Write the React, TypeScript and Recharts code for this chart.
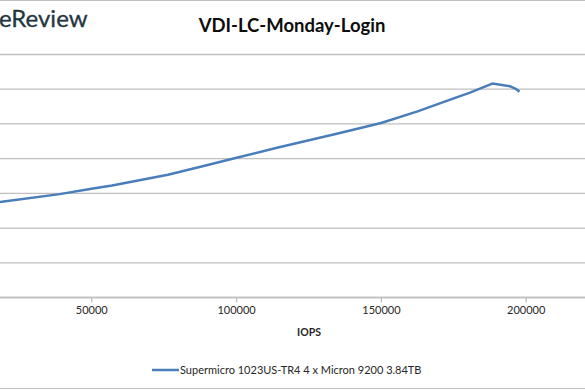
import React from "react";
import { LineChart, Line, XAxis, YAxis, CartesianGrid, Legend } from "recharts";

const seriesName = "Supermicro 1023US-TR4 4 x Micron 9200 3.84TB";
const iops = [11400, 19600, 38900, 49900, 57000, 76300, 87900, 100000, 113600, 134200, 149900, 162500, 172800, 180600, 188300, 194500, 196200, 197700];
const latency = [1.337, 1.382, 1.489, 1.566, 1.613, 1.768, 1.887, 2.013, 2.153, 2.355, 2.514, 2.681, 2.835, 2.95, 3.081, 3.042, 3.009, 2.965];
const xTicks = [0, 50000, 100000, 150000, 200000];
const yTicks = [0, 0.5, 1, 1.5, 2, 2.5, 3, 3.5];
const title = "VDI-LC-Monday-Login";
const logoText = "eReview";
const xLabel = "IOPS";

const data = iops.map((x, i) => ({ iops: x, latency: latency[i] }));

const FONT = "Lato, 'Open Sans', sans-serif";
const LINE_COLOR = "#4A7EBB";
const GRID = "#BFBFBF";

const LegendContent = () => (
  <svg width={300} height={16} style={{ display: "block" }}>
    <line x1={0} y1={8} x2={27} y2={8} stroke={LINE_COLOR} strokeWidth={2.5} />
    <text x={28} y={12} fontFamily={FONT} fontSize={11} fill="#262626">
      {seriesName}
    </text>
  </svg>
);

export default function App() {
  return (
    <div
      style={{
        position: "fixed",
        left: 0,
        top: 0,
        width: 585,
        height: 390,
        overflow: "hidden",
        background: "#fff",
      }}
    >
      <div style={{ position: "absolute", left: -53, top: 0 }}>
        <LineChart
          width={740}
          height={390}
          data={data}
          margin={{ top: 54.5, right: 16, left: 0, bottom: 62.5 }}
        >
          <CartesianGrid vertical={false} stroke={GRID} strokeWidth={1.3} />
          <XAxis
            dataKey="iops"
            type="number"
            domain={[0, 250000]}
            ticks={xTicks}
            height={30}
            allowDataOverflow
            stroke={GRID}
            strokeWidth={1.3}
            tickSize={5}
            tickMargin={4}
            tick={{ fill: "#262626", fontSize: 11, fontFamily: FONT }}
            label={{
              value: xLabel,
              position: "bottom",
              offset: 1,
              style: { fill: "#262626", fontSize: 10.5, fontWeight: 700, fontFamily: FONT },
            }}
          />
          <YAxis hide domain={[0, 3.5]} ticks={yTicks} />
          <Legend
            layout="horizontal"
            align="center"
            verticalAlign="middle"
            content={<LegendContent />}
            wrapperStyle={{ left: 152 + 53, top: 362, width: 300, height: 16 }}
          />
          <Line
            type="linear"
            dataKey="latency"
            name={seriesName}
            stroke={LINE_COLOR}
            strokeWidth={2.5}
            strokeLinejoin="round"
            dot={false}
            isAnimationActive={false}
          />
        </LineChart>
      </div>
      <svg
        width={585}
        height={390}
        style={{ position: "absolute", left: 0, top: 0, pointerEvents: "none" }}
      >
        <line x1={0} y1={0.5} x2={585} y2={0.5} stroke="#BFBFBF" strokeWidth={1} />
        <line x1={0} y1={388.5} x2={585} y2={388.5} stroke="#BFBFBF" strokeWidth={1} />
        <text x={-1} y={26.7} fontFamily={FONT} fontSize={24} fill="#243640" stroke="#243640" strokeWidth={0.3}>
          {logoText}
        </text>
        <text
          x={292}
          y={31.7}
          textAnchor="middle"
          fontFamily={FONT}
          fontWeight={700}
          fontSize={18.5}
          fill="#0d0d0d"
        >
          {title}
        </text>
      </svg>
    </div>
  );
}
